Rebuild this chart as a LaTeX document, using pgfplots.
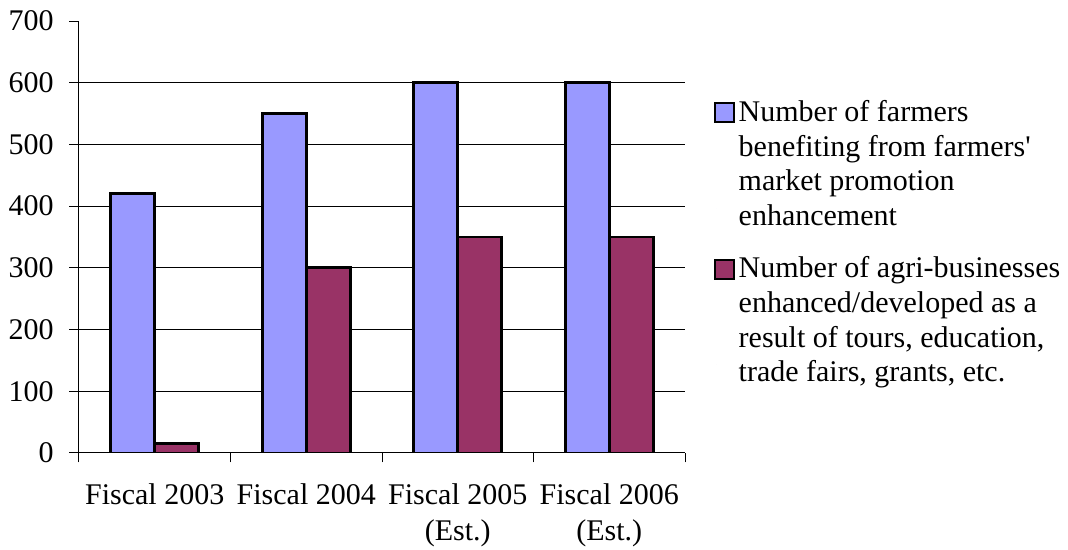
\documentclass[border=0pt]{standalone}
\usepackage{fontspec}
\setmainfont{Liberation Serif}
\usepackage{pgfplots}
\pgfplotsset{compat=1.18}
\definecolor{cblue}{HTML}{9999FF}
\definecolor{cmaroon}{HTML}{993366}
\begin{document}
\fontsize{15}{17.35}\selectfont
\begin{tikzpicture}[font=\fontsize{15}{17.35}\selectfont]
\useasboundingbox (-39.5pt,-48.5pt) rectangle (494.5pt,226.5pt);
\begin{axis}[
  at={(0pt,0pt)}, anchor=south west,
  scale only axis, width=303pt, height=216pt,
  ybar=0pt, bar width=22pt,
  xmin=-0.5, xmax=3.5, ymin=0, ymax=700,
  axis x line=bottom, axis y line=left,
  axis line style={-, line width=0.5pt, black},
  tick align=outside,
  major tick length=4.75pt,
  tick style={black, line width=0.5pt},
  xtick={-0.5,0.5,1.5,2.5,3.5},
  xticklabels={},
  extra x ticks={0,1,2,3},
  extra x tick labels={Fiscal 2003, Fiscal 2004, {Fiscal 2005\\[1pt](Est.)}, {Fiscal 2006\\[1pt](Est.)}},
  extra x tick style={major tick length=0pt, xticklabel style={align=center, anchor=north, inner sep=0pt, yshift=-15pt}},
  ytick={0,100,...,700},
  yticklabel style={anchor=east, inner sep=0pt, xshift=-7.75pt},
  /pgf/number format/assume math mode=true,
  extra y ticks={100,200,...,600},
  extra y tick labels={},
  extra y tick style={grid=major, major tick length=0pt},
  major grid style={black, line width=0.5pt},
  legend style={at={(rel axis cs:1.0467,0.8264)}, anchor=north west, draw=none, fill=none, inner sep=0pt,
     row sep=9.3pt, cells={align=left, anchor=north west, inner sep=0pt}, font=\fontsize{15}{17.35}\selectfont},
  legend cell align=left,
  legend image code/.code={\path (0pt,-21.5pt) -- (0pt,-21.5pt);\draw[#1, line width=1pt] (-1pt,21.5pt) rectangle (8.5pt,31pt);},
]
\addplot[fill=cblue, draw=black, line width=1.4pt] coordinates {(0,420) (1,550) (2,600) (3,600)};
\addplot[fill=cmaroon, draw=black, line width=1.4pt] coordinates {(0,16) (1,300) (2,350) (3,350)};
\legend{{Number of farmers\\benefiting from farmers\textquotesingle\\market promotion\\enhancement},
        {Number of agri-businesses\\enhanced/developed as a\\result of tours, education,\\trade fairs, grants, etc.}}
\end{axis}
\end{tikzpicture}
\end{document}
